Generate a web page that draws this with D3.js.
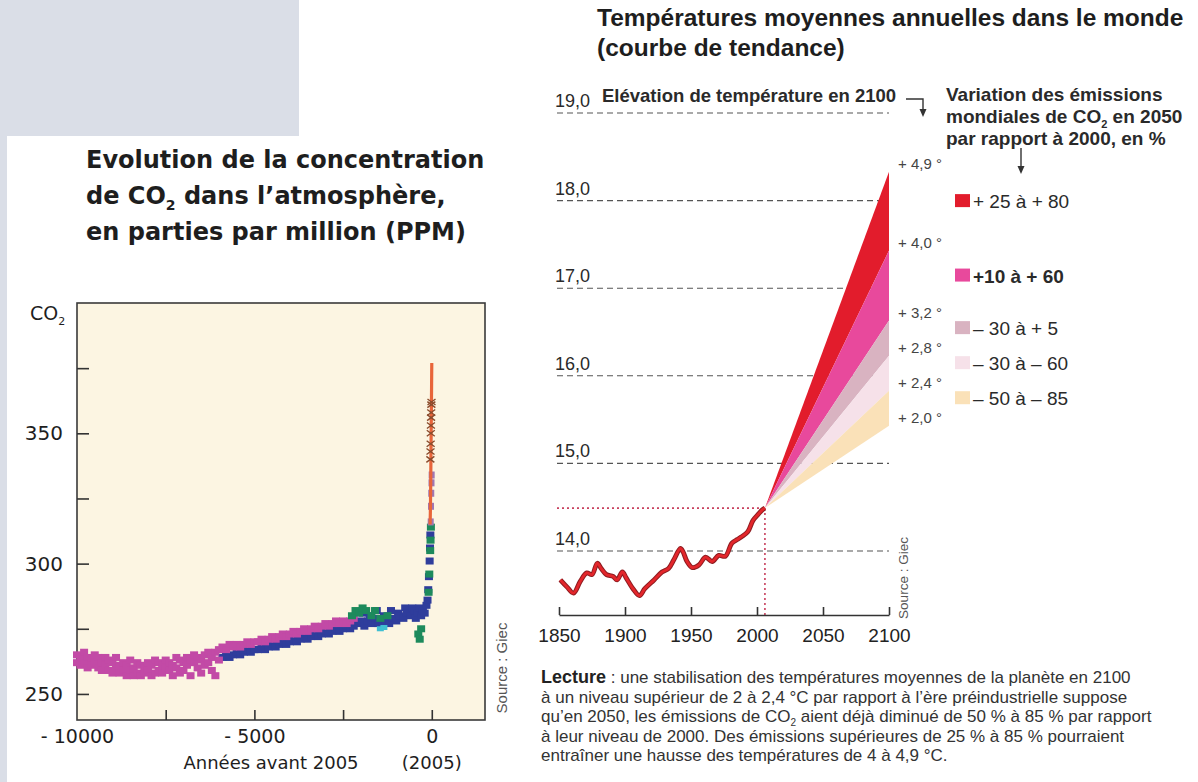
<!DOCTYPE html>
<html><head><meta charset="utf-8">
<script src="https://cdn.jsdelivr.net/npm/d3@7"></script>
<style>
html,body{margin:0;padding:0;background:#fff;}
svg{display:block;}
</style></head><body>
<svg id="c" width="1198" height="782"></svg>
<script>
// ================= DATA : CO2 concentration (left chart) =================
const co2Magenta = [
[-10000,265],[-10000,262],[-9900,264],[-9900,261],[-9800,266],[-9800,262],[-9700,264],[-9700,260],
[-9600,263],[-9600,261],[-9500,265],[-9500,262],[-9400,264],[-9400,260],[-9300,262],[-9300,259],
[-9200,264],[-9200,261],[-9100,263],[-9100,259],[-9000,262],[-9000,258],[-8900,264],[-8900,260],
[-8800,261],[-8800,258],[-8700,262],[-8700,259],[-8600,261],[-8600,257],[-8500,263],[-8500,259],
[-8400,260],[-8400,257],[-8300,262],[-8300,258],[-8200,261],[-8200,257],[-8100,260],[-8100,258],
[-8000,262],[-8000,259],[-7900,261],[-7900,257],[-7800,263],[-7800,258],[-7700,262],[-7700,259],
[-7600,261],[-7600,258],[-7500,263],[-7500,260],[-7400,262],[-7400,259],[-7300,261],[-7300,257],
[-7200,264],[-7200,260],[-7100,263],[-7100,258],[-7000,262],[-7000,259],[-6900,264],[-6900,261],
[-6800,263],[-6800,257],[-6700,265],[-6700,262],[-6600,264],[-6600,260],[-6500,263],[-6500,258],
[-6400,265],[-6400,261],[-6300,266],[-6300,262],[-6200,264],[-6200,259],[-6100,266],[-6100,257],
[-6000,267],[-6000,263],[-5900,268],[-5800,267],[-5700,269],[-5600,268],[-5500,269],[-5400,268],
[-5300,269],[-5200,270],[-5100,269],[-5000,270],[-4900,270],[-4800,271],[-4700,270],[-4600,271],
[-4500,272],[-4400,271],[-4300,272],[-4200,273],[-4100,272],[-4000,273],[-3900,274],[-3800,273],
[-3700,274],[-3600,275],[-3500,274],[-3400,275],[-3300,276],[-3200,275],[-3100,276],[-3000,277],
[-2900,276],[-2800,277],[-2700,278],[-2600,277],[-2500,278],[-2400,277],[-2300,278],[-2200,279]
];
const co2Blue = [
[-5900,264],[-5800,265],[-5700,264],[-5600,265],[-5500,266],[-5400,265],[-5300,266],[-5200,267],
[-5100,266],[-5000,267],[-4900,267],[-4800,268],[-4700,267],[-4600,268],[-4500,269],[-4400,268],
[-4300,269],[-4200,270],[-4100,269],[-4000,270],[-3900,271],[-3800,270],[-3700,271],[-3600,272],
[-3500,271],[-3400,272],[-3300,273],[-3200,272],[-3100,273],[-3000,274],[-2900,273],[-2800,274],
[-2700,275],[-2600,274],[-2500,275],[-2400,276],[-2300,275],[-2200,276],[-2100,277],[-2000,278],
[-1950,281],[-1900,276],[-1800,278],[-1750,280],[-1700,277],[-1600,279],[-1550,282],[-1500,277],
[-1400,276],[-1350,280],[-1300,278],[-1200,277],[-1150,282],[-1100,279],[-1000,278],[-950,281],
[-900,280],[-800,279],[-750,283],[-700,281],[-600,280],[-550,283],[-500,282],[-450,279],[-400,281],
[-350,283],[-300,280],[-250,282],[-200,281],[-150,284],[-120,286],[-100,290],[-80,295],[-60,301],
[-50,306],[-40,311]
];
const co2Green = [
[-2250,280],[-2150,282],[-2050,281],[-1950,283],[-1850,282],[-1700,280],[-1600,282],[-1450,279],
[-1250,280],[-380,273],[-340,271],[-300,275],[-90,289],[-70,296],[-45,305],[-35,309],[-25,314]
];
const co2Cyan = [[-1450,275],[-1350,275.5]];
const co2Violet = [[-30,316],[-22,322],[-15,327],[-8,331],[-3,334]];
const co2Atmos = [[-47,315],[-40,320],[-35,325],[-30,331],[-25,339],[-20,346],[-15,354],[-10,361],[-5,369],[0,377]];
const co2Crosses = [[-40,340],[-36,343],[-32,346],[-28,350],[-24,353],[-20,356],[-16,358],[-12,361],[-8,362]];
const co2YTicks = [250,275,300,325,350,375];
const co2YLabels = [250,300,350];
const co2XTicks = [-10000,-7500,-5000,-2500,0];
const co2XLabels = {"-10000":"- 10000","-5000":"- 5000","0":"0"};

// ================= DATA : temperatures (right chart) =================
const tempYears  = [1851,1856,1861,1866,1871,1875,1879,1882,1886,1891,1894,1898,1901,1906,1911,1915,1922,1928,1933,1937,1942,1944,1947,1951,1956,1961,1966,1971,1976,1981,1985,1988,1993,1997,2001,2004,2006];
const tempValues = [13.67,13.59,13.52,13.65,13.75,13.73,13.86,13.80,13.73,13.71,13.67,13.76,13.69,13.57,13.49,13.57,13.67,13.76,13.80,13.90,14.03,13.99,13.88,13.81,13.84,13.93,13.88,13.95,13.94,14.09,14.13,14.16,14.22,14.35,14.42,14.47,14.49];
const tempGrid = [14,15,16,17,18,19];
const tempXTicks = [1850,1900,1950,2000,2050,2100];
const fanStartYear = 2006, fanStartValue = 14.49, fanEndYear = 2100;
const fanLevels = [18.33,17.43,16.63,16.23,15.83,15.43];
const fanRiseLabels = ["+ 4,9 °","+ 4,0 °","+ 3,2 °","+ 2,8 °","+ 2,4 °","+ 2,0 °"];
const fanColors = ["#e21c2c","#e8499c","#d9b3c1","#f6e1e9","#fae1b8"];
const legendLabels = ["+ 25 à + 80","+10 à + 60","– 30 à + 5","– 30 à – 60","– 50 à – 85"];

// ================= DRAWING =================
const svg = d3.select("#c");
svg.append("rect").attr("x",0).attr("y",0).attr("width",1198).attr("height",782).attr("fill","#fff");
svg.append("rect").attr("x",0).attr("y",0).attr("width",299).attr("height",136).attr("fill","#dadee7");
svg.append("rect").attr("x",0).attr("y",0).attr("width",7).attr("height",782).attr("fill","#dadee7");

// ---------- LEFT CHART ----------
const L = svg.append("g").attr("font-family","'DejaVu Sans', sans-serif").attr("fill","#1e1e1e");
const t1 = L.append("text").attr("x",86).attr("font-size",24).attr("font-weight","bold");
t1.append("tspan").attr("x",86).attr("y",168).text("Evolution de la concentration");
t1.append("tspan").attr("x",86).attr("y",204).text("de CO");
t1.append("tspan").attr("font-size",14).attr("dy",6).text("2");
t1.append("tspan").attr("dy",-6).text(" dans l’atmosphère,");
t1.append("tspan").attr("x",86).attr("y",240).text("en parties par million (PPM)");

const xL = d3.scaleLinear().domain([-10000,1500]).range([77,485]);
const yL = d3.scaleLinear().domain([240,400]).range([720,303]);

L.append("rect").attr("x",xL(-10000)).attr("y",yL(400))
  .attr("width",xL(1500)-xL(-10000)).attr("height",yL(240)-yL(400))
  .attr("fill","#fcf5e2").attr("stroke","#3a3a3a").attr("stroke-width",1.6);

// y axis (ticks inside)
const yAx = L.append("g").attr("transform",`translate(${xL(-10000)},0)`)
  .call(d3.axisLeft(yL).tickValues(co2YTicks).tickSize(-12).tickPadding(14)
    .tickFormat(d=>co2YLabels.includes(d)?String(d):""));
yAx.select(".domain").remove();
yAx.selectAll("line").attr("stroke","#333").attr("stroke-width",1.6);
yAx.selectAll("text").attr("font-size",20).attr("fill","#1e1e1e").attr("font-family","'DejaVu Sans', sans-serif");

// x axis (ticks inside)
const xAx = L.append("g").attr("transform",`translate(0,${yL(240)})`)
  .call(d3.axisBottom(xL).tickValues(co2XTicks).tickSize(-10).tickPadding(10)
    .tickFormat(d=>co2XLabels[String(d)]||""));
xAx.select(".domain").remove();
xAx.selectAll("line").attr("stroke","#333").attr("stroke-width",1.6);
xAx.selectAll(".tick").filter(d=>d===-10000).select("line").remove();
xAx.selectAll("text").attr("font-size",19).attr("fill","#1e1e1e").attr("font-family","'DejaVu Sans', sans-serif");

const co2Lab = L.append("text").attr("x",30).attr("y",320).attr("font-size",19);
co2Lab.append("tspan").text("CO");
co2Lab.append("tspan").attr("font-size",11).attr("dy",5).text("2");

L.append("text").attr("x",271).attr("y",769).attr("text-anchor","middle").attr("font-size",18).text("Années avant 2005");
L.append("text").attr("x",xL(0)).attr("y",769).attr("text-anchor","middle").attr("font-size",18).text("(2005)");
L.append("text").attr("transform","translate(507,668) rotate(-90)").attr("text-anchor","middle")
  .attr("font-family","'Liberation Sans', Arial, sans-serif").attr("font-size",15).attr("fill","#555").text("Source : Giec");

function squares(data, color, w, h){
  L.append("g").selectAll("rect").data(data).join("rect")
    .attr("x",d=>xL(d[0])-w/2).attr("y",d=>yL(d[1])-h/2)
    .attr("width",w).attr("height",h).attr("fill",color);
}
squares(co2Blue,"#2f3d9c",8,7);
squares(co2Magenta,"#c24aa6",8,7);
squares(co2Green,"#1d8a5c",8,7);
squares(co2Cyan,"#3fbfd2",7,5);
squares(co2Violet,"#a077b2",6,7);
L.append("path").datum(co2Atmos)
  .attr("d",d3.line().x(d=>xL(d[0])).y(d=>yL(d[1])))
  .attr("fill","none").attr("stroke","#e8653a").attr("stroke-width",3.2);
L.append("g").selectAll("path").data(co2Crosses).join("path")
  .attr("d",d=>{const x=xL(d[0]),y=yL(d[1]);return `M${x-4},${y-3}L${x+4},${y+3}M${x-4},${y+3}L${x+4},${y-3}`;})
  .attr("stroke","#8a4b2c").attr("stroke-width",1.4).attr("fill","none");

// ---------- RIGHT CHART ----------
const R = svg.append("g").attr("font-family","'Liberation Sans', Arial, sans-serif").attr("fill","#222");
const xR = d3.scaleLinear().domain([1850,2100]).range([559,889]);
const yR = d3.scaleLinear().domain([14,19]).range([551,113]);

const tt = R.append("text").attr("font-size",24.5).attr("font-weight","bold").attr("fill","#1e1e1e");
tt.append("tspan").attr("x",597).attr("y",26).text("Températures moyennes annuelles dans le monde");
tt.append("tspan").attr("x",597).attr("y",56).text("(courbe de tendance)");

// grid dashed lines + labels
const grid = R.append("g");
tempGrid.forEach(v=>{
  grid.append("line").attr("x1",557).attr("x2",xR(2100)).attr("y1",yR(v)).attr("y2",yR(v))
    .attr("stroke","#555").attr("stroke-width",1.1).attr("stroke-dasharray","6,4");
  grid.append("text").attr("x",555).attr("y",yR(v)-6).attr("font-size",18).attr("fill","#2a2a2a")
    .text(d3.format(".1f")(v).replace(".",","));
});

// reference dotted lines
R.append("line").attr("x1",557).attr("x2",xR(fanStartYear)).attr("y1",yR(fanStartValue)).attr("y2",yR(fanStartValue))
  .attr("stroke","#c8405e").attr("stroke-width",1.6).attr("stroke-dasharray","2,3");
R.append("line").attr("x1",xR(fanStartYear)).attr("x2",xR(fanStartYear)).attr("y1",yR(fanStartValue)).attr("y2",615)
  .attr("stroke","#c8405e").attr("stroke-width",1.6).attr("stroke-dasharray","2,3");

// fan bands
const fanArea = d3.area().x(d=>xR(d.year)).y0(d=>yR(d.lo)).y1(d=>yR(d.hi));
fanColors.forEach((c,i)=>{
  const data=[{year:fanStartYear,lo:fanStartValue,hi:fanStartValue},{year:fanEndYear,lo:fanLevels[i+1],hi:fanLevels[i]}];
  R.append("path").datum(data).attr("d",fanArea).attr("fill",c);
});
// fan labels
fanLevels.forEach((v,i)=>{
  R.append("text").attr("x",xR(2100)+9).attr("y",yR(v)-3).attr("font-size",15).attr("fill","#444").text(fanRiseLabels[i]);
});

// temperature curve
const tData = tempYears.map((y,i)=>[y,tempValues[i]]);
const tLine = d3.line().x(d=>xR(d[0])).y(d=>yR(d[1])).curve(d3.curveCatmullRom.alpha(0.5));
R.append("path").datum(tData).attr("d",tLine).attr("fill","none").attr("stroke","#8e1c20").attr("stroke-width",4.8).attr("stroke-linejoin","round");
R.append("path").datum(tData).attr("d",tLine).attr("fill","none").attr("stroke","#e3262b").attr("stroke-width",2.8).attr("stroke-linejoin","round");

// x axis
const xRA = R.append("g").attr("transform","translate(0,615)")
  .call(d3.axisBottom(xR).tickValues(tempXTicks).tickSize(-8).tickSizeOuter(0).tickPadding(14).tickFormat(d3.format("d")));
xRA.select(".domain").attr("stroke","#333").attr("stroke-width",1.6);
xRA.selectAll("line").attr("stroke","#333").attr("stroke-width",1.6);
xRA.selectAll("text").attr("font-size",19).attr("fill","#222").attr("font-family","'Liberation Sans', Arial, sans-serif");

R.append("text").attr("transform","translate(908,578) rotate(-90)").attr("text-anchor","middle")
  .attr("font-size",13.5).attr("fill","#555").text("Source : Giec");

// elevation header + arrow
R.append("text").attr("x",602).attr("y",102).attr("font-size",18.5).attr("font-weight","bold").attr("fill","#2a2a2a")
  .text("Elévation de température en 2100");
R.append("path").attr("d","M906,99H923V111").attr("fill","none").attr("stroke","#333").attr("stroke-width",1.4);
R.append("path").attr("d","M919.5,109L926.5,109L923,117Z").attr("fill","#333");

// legend title + arrow
const lt = R.append("text").attr("font-size",19).attr("font-weight","bold").attr("fill","#2a2a2a");
lt.append("tspan").attr("x",946).attr("y",101).text("Variation des émissions");
lt.append("tspan").attr("x",946).attr("y",123).text("mondiales de CO");
lt.append("tspan").attr("font-size",11).attr("dy",5).text("2");
lt.append("tspan").attr("dy",-5).text(" en 2050");
lt.append("tspan").attr("x",946).attr("y",145).text("par rapport à 2000, en %");
R.append("line").attr("x1",1021).attr("x2",1021).attr("y1",148).attr("y2",168).attr("stroke","#333").attr("stroke-width",1.4);
R.append("path").attr("d","M1017.5,166L1024.5,166L1021,174Z").attr("fill","#333");

// legend entries
legendLabels.forEach((lab,i)=>{
  const cy = yR((fanLevels[i]+fanLevels[i+1])/2) - 10;
  R.append("rect").attr("x",955).attr("y",cy-7).attr("width",15).attr("height",13).attr("fill",fanColors[i]);
  R.append("text").attr("x",973).attr("y",cy+7).attr("font-size",19)
    .attr("font-weight",i===1?"bold":"normal").attr("fill","#2a2a2a").text(lab);
});

// Lecture text
const lx = 541;
const lineY = [683,702.5,722,741.5,761];
const lecLines = [
  null,
  "à un niveau supérieur de 2 à 2,4 °C par rapport à l’ère préindustrielle suppose",
  null,
  "à leur niveau de 2000. Des émissions supérieures de 25 % à 85 % pourraient",
  "entraîner une hausse des températures de 4 à 4,9 °C."
];
const lecG = R.append("g").attr("font-size",17).attr("fill","#333");
const a = lecG.append("text").attr("x",lx).attr("y",lineY[0]);
a.append("tspan").attr("font-weight","bold").attr("font-size",18).attr("fill","#222").text("Lecture");
a.append("tspan").text(" : une stabilisation des températures moyennes de la planète en 2100");
lecG.append("text").attr("x",lx).attr("y",lineY[1]).text(lecLines[1]);
const c3 = lecG.append("text").attr("x",lx).attr("y",lineY[2]);
c3.append("tspan").text("qu’en 2050, les émissions de CO");
c3.append("tspan").attr("font-size",10).attr("dy",4).text("2");
c3.append("tspan").attr("dy",-4).text(" aient déjà diminué de 50 % à 85 % par rapport");
lecG.append("text").attr("x",lx).attr("y",lineY[3]).text(lecLines[3]);
lecG.append("text").attr("x",lx).attr("y",lineY[4]).text(lecLines[4]);
</script>
</body></html>
